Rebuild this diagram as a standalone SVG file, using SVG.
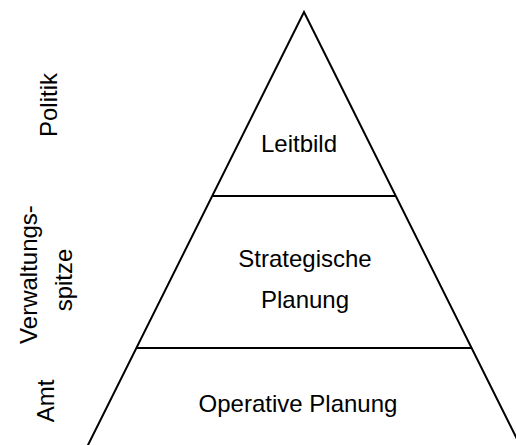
<svg xmlns="http://www.w3.org/2000/svg" width="516" height="445" viewBox="0 0 516 445">
  <style>
    .edge { fill: none; stroke: #000; stroke-width: 2; stroke-linecap: butt; stroke-linejoin: miter; }
    .lbl { font-family: "Liberation Sans", Arial, sans-serif; font-size: 24px; fill: #000; text-anchor: middle; }
  </style>
  <rect x="0" y="0" width="516" height="445" fill="#fff"/>

  <!-- pyramid outline and level dividers -->
  <g id="connectors">
    <path class="edge" d="M87.5,446 L304,12 L520.5,446"/>
    <line class="edge" x1="212" y1="196" x2="396" y2="196"/>
    <line class="edge" x1="136" y1="348" x2="472" y2="348"/>
  </g>

  <!-- pyramid levels -->
  <g id="level-leitbild">
    <text class="lbl" x="299" y="152">Leitbild</text>
  </g>
  <g id="level-strategisch">
    <text class="lbl" x="305" y="267">Strategische</text>
    <text class="lbl" x="305" y="308">Planung</text>
  </g>
  <g id="level-operativ">
    <text class="lbl" x="298" y="412">Operative Planung</text>
  </g>

  <!-- actor labels on the left, rotated -->
  <g id="actor-politik">
    <text class="lbl" transform="translate(57,105) rotate(-90)">Politik</text>
  </g>
  <g id="actor-verwaltungsspitze">
    <text class="lbl" transform="translate(37,274.5) rotate(-90)">Verwaltungs-</text>
    <text class="lbl" transform="translate(72,280) rotate(-90)">spitze</text>
  </g>
  <g id="actor-amt">
    <text class="lbl" transform="translate(54,401) rotate(-90)">Amt</text>
  </g>
</svg>
